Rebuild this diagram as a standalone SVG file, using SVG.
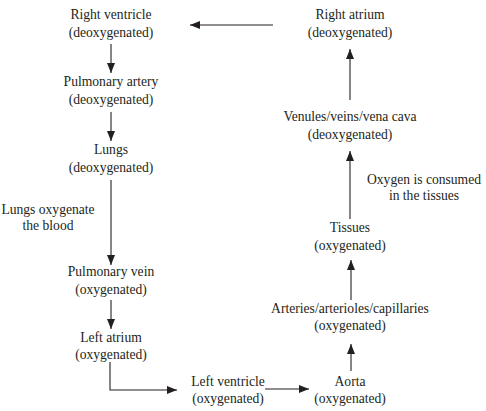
<svg xmlns="http://www.w3.org/2000/svg" width="486" height="411" viewBox="0 0 486 411">
<defs>
<marker id="ah" viewBox="0 0 10 8" refX="10" refY="4" markerWidth="10" markerHeight="8" markerUnits="userSpaceOnUse" orient="auto">
<path d="M0,0 L10,4 L0,8 Z" fill="#231f20"/>
</marker>
<style>
text{font-family:"Liberation Serif","Times New Roman",serif;font-size:13.6px;fill:#231f20;text-anchor:middle}
.c{fill:none;stroke:#231f20;stroke-width:1.1}
</style>
</defs>
<rect width="486" height="411" fill="#fff"/>
<g id="right-ventricle"><text x="111" y="19">Right ventricle</text><text x="111" y="37">(deoxygenated)</text></g>
<g id="pulmonary-artery"><text x="111" y="86">Pulmonary artery</text><text x="111" y="104">(deoxygenated)</text></g>
<g id="lungs"><text x="111" y="154">Lungs</text><text x="111" y="172">(deoxygenated)</text></g>
<g id="lungs-label"><text x="48" y="214">Lungs oxygenate</text><text x="48" y="230">the blood</text></g>
<g id="pulmonary-vein"><text x="111" y="276">Pulmonary vein</text><text x="111" y="294">(oxygenated)</text></g>
<g id="left-atrium"><text x="111" y="342">Left atrium</text><text x="111" y="359">(oxygenated)</text></g>
<g id="left-ventricle"><text x="228" y="386">Left ventricle</text><text x="228" y="403">(oxygenated)</text></g>
<g id="aorta"><text x="350" y="386">Aorta</text><text x="350" y="403">(oxygenated)</text></g>
<g id="arteries"><text x="350" y="313">Arteries/arterioles/capillaries</text><text x="350" y="330">(oxygenated)</text></g>
<g id="tissues"><text x="350" y="232">Tissues</text><text x="350" y="250">(oxygenated)</text></g>
<g id="oxygen-label"><text x="424" y="184">Oxygen is consumed</text><text x="424" y="200">in the tissues</text></g>
<g id="venules"><text x="350" y="121">Venules/veins/vena cava</text><text x="350" y="139">(deoxygenated)</text></g>
<g id="right-atrium"><text x="350" y="19">Right atrium</text><text x="350" y="37">(deoxygenated)</text></g>
<g id="connectors">
<line class="c" x1="111" y1="44" x2="111" y2="73" marker-end="url(#ah)"/>
<line class="c" x1="111" y1="112" x2="111" y2="141" marker-end="url(#ah)"/>
<line class="c" x1="111" y1="180" x2="111" y2="265" marker-end="url(#ah)"/>
<line class="c" x1="111" y1="300" x2="111" y2="329" marker-end="url(#ah)"/>
<polyline class="c" points="110,362 110,390 177,390" marker-end="url(#ah)"/>
<line class="c" x1="265" y1="389" x2="309" y2="389" marker-end="url(#ah)"/>
<line class="c" x1="351" y1="371" x2="351" y2="344" marker-end="url(#ah)"/>
<line class="c" x1="351" y1="300" x2="351" y2="260" marker-end="url(#ah)"/>
<line class="c" x1="350" y1="219" x2="350" y2="151" marker-end="url(#ah)"/>
<line class="c" x1="350" y1="100" x2="350" y2="49" marker-end="url(#ah)"/>
<line class="c" x1="273" y1="25" x2="190" y2="25" marker-end="url(#ah)"/>
</g>
</svg>
